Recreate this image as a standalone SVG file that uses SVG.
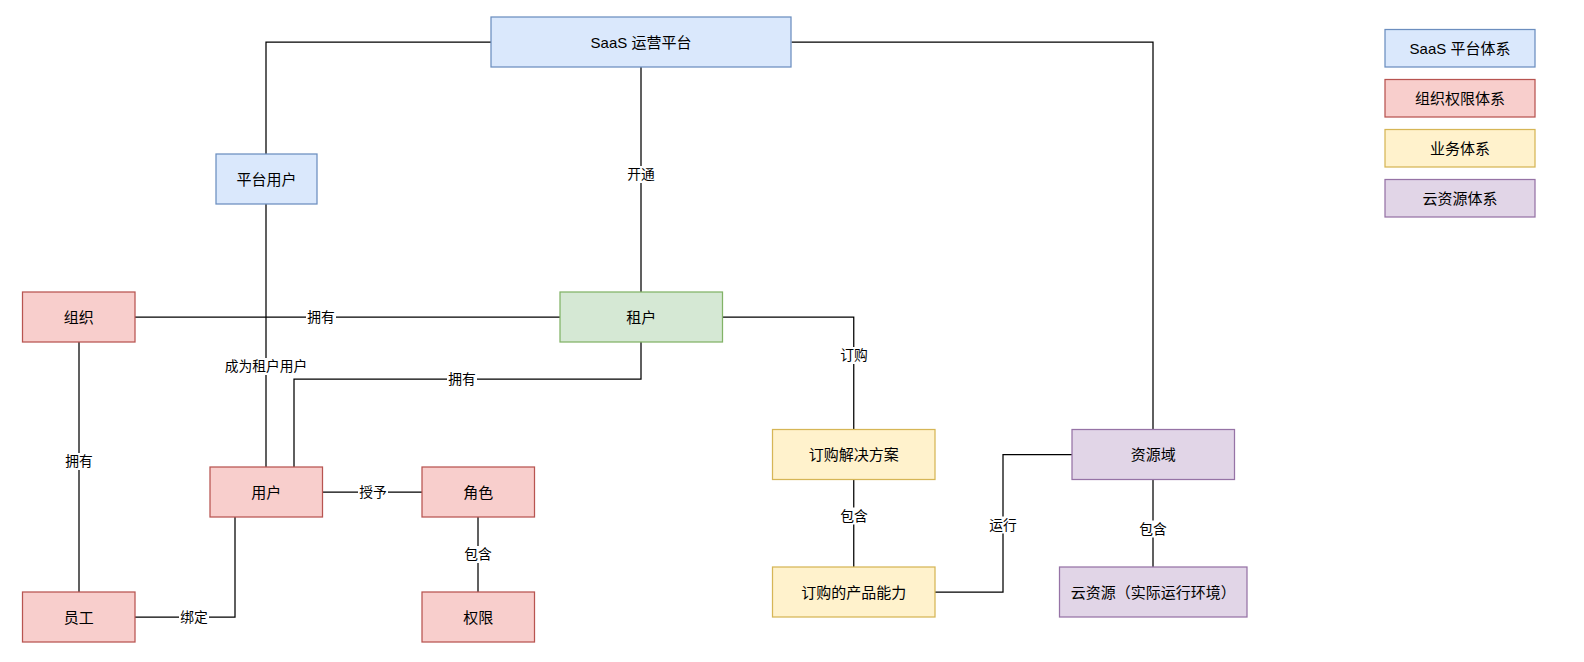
<svg xmlns="http://www.w3.org/2000/svg" width="1584" height="662" viewBox="0 0 1584 662">
<style>
  text { font-family: "Liberation Sans", "Noto Sans CJK SC", sans-serif; fill: #000; }
  .n { font-size: 15px; text-anchor: middle; dominant-baseline: central; }
  .l { font-size: 13.75px; text-anchor: middle; dominant-baseline: central; }
  .lb { fill: #fff; }
  .e { fill: none; stroke: #000; stroke-width: 1.25; }
  .blue { fill: #dae8fc; stroke: #6c8ebf; stroke-width: 1.25; }
  .red { fill: #f8cecc; stroke: #b85450; stroke-width: 1.25; }
  .green { fill: #d5e8d4; stroke: #82b366; stroke-width: 1.25; }
  .yellow { fill: #fff2cc; stroke: #d6b656; stroke-width: 1.25; }
  .purple { fill: #e1d5e7; stroke: #9673a6; stroke-width: 1.25; }
</style>
<rect width="1584" height="662" fill="#fff"/>
<g id="connectors">
  <path class="e" d="M491,42 H266 V154"/>
  <path class="e" d="M641,67 V292"/>
  <path class="e" d="M791.5,42 H1153 V429.5"/>
  <path class="e" d="M266,204 V467"/>
  <path class="e" d="M135,317 H560"/>
  <path class="e" d="M641,342 V379 H294 V467"/>
  <path class="e" d="M722.5,317 H853.75 V429.5"/>
  <path class="e" d="M79,342 V592"/>
  <path class="e" d="M135,617 H235 V517"/>
  <path class="e" d="M322.5,492 H422"/>
  <path class="e" d="M478,517 V592"/>
  <path class="e" d="M853.75,479.5 V567"/>
  <path class="e" d="M935,592 H1003 V454.5 H1072"/>
  <path class="e" d="M1153,479.5 V567"/>
  <g id="edge-labels">
    <rect class="lb" x="626" y="166" width="30" height="17"/><text class="l" x="641" y="174.5">开通</text>
    <rect class="lb" x="224" y="358" width="85" height="17"/><text class="l" x="266" y="366.5">成为租户用户</text>
    <rect class="lb" x="306" y="308.5" width="30" height="17"/><text class="l" x="321" y="317">拥有</text>
    <rect class="lb" x="447" y="370.5" width="30" height="17"/><text class="l" x="462" y="379">拥有</text>
    <rect class="lb" x="839" y="347" width="30" height="17"/><text class="l" x="854" y="355.5">订购</text>
    <rect class="lb" x="64" y="453" width="30" height="17"/><text class="l" x="79" y="461.5">拥有</text>
    <rect class="lb" x="179" y="608.5" width="30" height="17"/><text class="l" x="194" y="617">绑定</text>
    <rect class="lb" x="358" y="483.5" width="30" height="17"/><text class="l" x="373" y="492">授予</text>
    <rect class="lb" x="463" y="546" width="30" height="17"/><text class="l" x="478" y="554.5">包含</text>
    <rect class="lb" x="839" y="507.5" width="30" height="17"/><text class="l" x="854" y="516">包含</text>
    <rect class="lb" x="988" y="516.5" width="30" height="17"/><text class="l" x="1003" y="525">运行</text>
    <rect class="lb" x="1138" y="520.5" width="30" height="17"/><text class="l" x="1153" y="529">包含</text>
  </g>
</g>
<g id="node-saas"><rect class="blue" x="491" y="17" width="300" height="50"/><text class="n" x="641" y="42">SaaS 运营平台</text></g>
<g id="node-platform-user"><rect class="blue" x="216" y="154" width="101" height="50"/><text class="n" x="266.5" y="179">平台用户</text></g>
<g id="node-org"><rect class="red" x="22.5" y="292" width="112.5" height="50"/><text class="n" x="78.75" y="317">组织</text></g>
<g id="node-tenant"><rect class="green" x="560" y="292" width="162.5" height="50"/><text class="n" x="641.25" y="317">租户</text></g>
<g id="node-user"><rect class="red" x="210" y="467" width="112.5" height="50"/><text class="n" x="266.25" y="492">用户</text></g>
<g id="node-role"><rect class="red" x="422" y="467" width="112.5" height="50"/><text class="n" x="478.25" y="492">角色</text></g>
<g id="node-employee"><rect class="red" x="22.5" y="592" width="112.5" height="50"/><text class="n" x="78.75" y="617">员工</text></g>
<g id="node-permission"><rect class="red" x="422" y="592" width="112.5" height="50"/><text class="n" x="478.25" y="617">权限</text></g>
<g id="node-solution"><rect class="yellow" x="772.5" y="429.5" width="162.5" height="50"/><text class="n" x="853.75" y="454.5">订购解决方案</text></g>
<g id="node-capability"><rect class="yellow" x="772.5" y="567" width="162.5" height="50"/><text class="n" x="853.75" y="592">订购的产品能力</text></g>
<g id="node-resource-domain"><rect class="purple" x="1072" y="429.5" width="162.5" height="50"/><text class="n" x="1153.25" y="454.5">资源域</text></g>
<g id="node-cloud-resource"><rect class="purple" x="1059.5" y="567" width="187.5" height="50"/><text class="n" x="1153.25" y="592">云资源（实际运行环境）</text></g>
<g id="legend">
  <g id="legend-saas"><rect class="blue" x="1385" y="29.5" width="150" height="37.5"/><text class="n" x="1460" y="48.25">SaaS 平台体系</text></g>
  <g id="legend-org"><rect class="red" x="1385" y="79.5" width="150" height="37.5"/><text class="n" x="1460" y="98.25">组织权限体系</text></g>
  <g id="legend-biz"><rect class="yellow" x="1385" y="129.5" width="150" height="37.5"/><text class="n" x="1460" y="148.25">业务体系</text></g>
  <g id="legend-cloud"><rect class="purple" x="1385" y="179.5" width="150" height="37.5"/><text class="n" x="1460" y="198.25">云资源体系</text></g>
</g>
</svg>
